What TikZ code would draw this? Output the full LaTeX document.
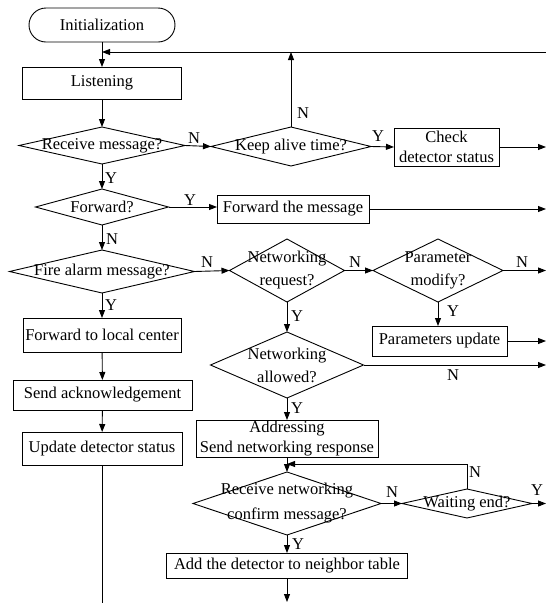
\documentclass[tikz,border=0pt]{standalone}
\usepackage{fontspec}
\setmainfont{Liberation Serif}
\usetikzlibrary{arrows.meta,shapes.geometric}
\begin{document}
\begin{tikzpicture}[x=1pt,y=-1pt,
  every node/.style={font=\fontsize{16.5}{20}\selectfont},
  box/.style={draw,line width=0.9pt,inner sep=0pt,outer sep=0pt,align=center},
  dia/.style={draw,shape=diamond,line width=0.9pt,inner sep=0pt,outer sep=0pt},
  dtxt/.style={align=center,inner sep=0pt,font=\fontsize{16.5}{23}\selectfont},
  lbl/.style={inner sep=0pt},
  arr/.style={line width=0.9pt,-{Triangle[length=8pt,width=6pt]}},
  ln/.style={line width=0.9pt}]
\useasboundingbox (0,0) rectangle (546,603);
% left column
\node[box,rounded corners=17pt,minimum width=146pt,minimum height=34pt] (init) at (102,25) {Initialization};
\node[box,minimum width=159pt,minimum height=32pt] (listen) at (102,83) {Listening};
\node[dia,minimum width=166pt,minimum height=37pt] (rm) at (102,145.5) {};
\node[dtxt] (rmt) at (rm) {Receive message?};
\node[dia,minimum width=160pt,minimum height=39pt] (ka) at (291,146.5) {};
\node[dtxt] (kat) at (ka) {Keep alive time?};
\node[box,minimum width=105pt,minimum height=38pt] (check) at (446.5,147) {Check\\detector status};
\node[dia,minimum width=133pt,minimum height=36pt] (fwd) at (102,207) {};
\node[dtxt] (fwdt) at (fwd) {Forward?};
\node[box,minimum width=152pt,minimum height=28pt] (fwdmsg) at (293,209) {Forward the message};
\node[dia,minimum width=185pt,minimum height=43pt] (fire) at (102,271.5) {};
\node[dtxt] (firet) at (fire) {Fire alarm message?};
\node[dia,minimum width=115pt,minimum height=63pt] (nreq) at (287,270.5) {};
\node[dtxt] (nreqt) at (nreq) {Networking\\request?};
\node[dia,minimum width=130pt,minimum height=63pt] (pmod) at (438,270.5) {};
\node[dtxt] (pmodt) at (pmod) {Parameter\\modify?};
\node[box,minimum width=135pt,minimum height=30pt] (pupd) at (439.5,341) {Parameters update};
\node[box,minimum width=158pt,minimum height=34pt] (fwdlc) at (102,335) {Forward to local center};
\node[box,minimum width=179pt,minimum height=30pt] (sack) at (102.5,395) {Send acknowledgement};
\node[box,minimum width=160pt,minimum height=33pt] (upd) at (102,448.5) {Update detector status};
\node[dia,minimum width=153pt,minimum height=66pt] (nall) at (287,365) {};
\node[dtxt] (nallt) at (nall) {Networking\\allowed?};
\node[box,minimum width=182pt,minimum height=37pt] (addr) at (287,438.5) {Addressing\\Send networking response};
\node[dia,minimum width=188pt,minimum height=63pt] (rnc) at (287,503.5) {};
\node[dtxt,font=\fontsize{16.5}{25}\selectfont] (rnct) at (rnc) {Receive networking\\confirm message?};
\node[dia,minimum width=130pt,minimum height=29pt] (wait) at (467,503.5) {};
\node[dtxt] (waitt) at (wait) {Waiting end?};
\node[box,minimum width=241pt,minimum height=25pt] (addt) at (287,565.5) {Add the detector to neighbor table};
% coordinates
\coordinate (top) at (102,52);
\coordinate (topR) at (546,52);
\coordinate (kaTop) at (291,52);
\coordinate (r1) at (546,147);
\coordinate (r2) at (546,209);
\coordinate (r3) at (546,270.5);
\coordinate (r4) at (546,341);
\coordinate (r5) at (546,365);
\coordinate (r6) at (546,503.5);
\coordinate (bl) at (102,603);
\coordinate (bm) at (287,602);
\coordinate (wtop) at (467,464);
\coordinate (wret) at (287,464);
% connectors
\draw[arr] (init) -- (listen);
\draw[arr] (topR) -- (top);
\draw[arr] (ka.north) -- (kaTop);
\draw[arr] (listen) -- (rm.north);
\draw[arr] (rm.east) -- (ka.west);
\draw[arr] (ka.east) -- (check.west);
\draw[arr] (check.east) -- (r1);
\draw[arr] (rm.south) -- (fwd.north);
\draw[arr] (fwd.east) -- (fwd.east -| fwdmsg.west);
\draw[arr] (fwdmsg.east) -- (r2);
\draw[arr] (fwd.south) -- (fire.north);
\draw[arr] (fire.east) -- (nreq.west);
\draw[arr] (nreq.east) -- (pmod.west);
\draw[arr] (pmod.east) -- (r3);
\draw[arr] (pmod.south) -- (pmod.south |- pupd.north);
\draw[arr] (pupd.east) -- (r4);
\draw[arr] (fire.south) -- (fwdlc.north);
\draw[arr] (fwdlc) -- (sack);
\draw[arr] (sack) -- (upd);
\draw[ln] (upd.south) -- (bl);
\draw[arr] (nreq.south) -- (nall.north);
\draw[arr] (nall.east) -- (r5);
\draw[arr] (nall.south) -- (addr.north);
\draw[arr] (addr.south) -- (rnc.north);
\draw[arr] (wait.north) -- (wtop) -- (wret);
\draw[arr] (rnc.east) -- (wait.west);
\draw[arr] (wait.east) -- (r6);
\draw[arr] (rnc.south) -- (addt.north);
\draw[arr] (addt.south) -- (bm);
% labels
\node[lbl] (l1) at (194,138) {N};
\node[lbl] (l2) at (303,113) {N};
\node[lbl] (l3) at (378,136) {Y};
\node[lbl] (l4) at (111,178) {Y};
\node[lbl] (l5) at (190,200) {Y};
\node[lbl] (l6) at (112,239) {N};
\node[lbl] (l7) at (207,262) {N};
\node[lbl] (l8) at (111,305) {Y};
\node[lbl] (l9) at (355,262) {N};
\node[lbl] (l10) at (522,262) {N};
\node[lbl] (l11) at (453,311) {Y};
\node[lbl] (l12) at (297,316) {Y};
\node[lbl] (l13) at (453,375) {N};
\node[lbl] (l14) at (297,408) {Y};
\node[lbl] (l15) at (392,492) {N};
\node[lbl] (l16) at (475,472) {N};
\node[lbl] (l17) at (537,490) {Y};
\node[lbl] (l18) at (298,544) {Y};
\end{tikzpicture}
\end{document}
